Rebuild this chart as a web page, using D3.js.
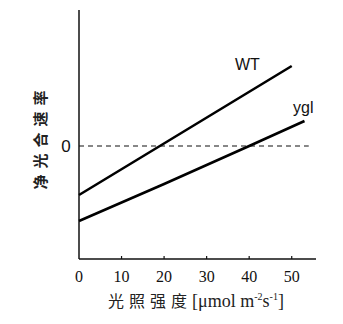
<!DOCTYPE html>
<html>
<head>
<meta charset="utf-8">
<script src="https://cdn.jsdelivr.net/npm/d3@7"></script>
<style>
  body { margin: 0; background: #fff; }
</style>
</head>
<body>
<div id="chart"></div>
<script>
var WIDTH = 343;
var HEIGHT = 324;

// light intensity (x) and net photosynthetic rate (arbitrary units)
var xTicks = [0, 10, 20, 30, 40, 50];
var wtX = [0, 19, 50];
var wtY = [-4.9, 0, 8.0];
var yglX = [0, 20, 40, 53];
var yglY = [-7.5, -3.8, 0, 2.5];

var SERIF = "'Liberation Serif', 'DejaVu Serif', 'Times New Roman', serif";
var SANS = "'Liberation Sans', Arial, sans-serif";

var svg = d3.select("#chart").append("svg")
    .attr("width", WIDTH)
    .attr("height", HEIGHT);

var x = d3.scaleLinear().domain([0, 55]).range([79, 313]);
var y = d3.scaleLinear().domain([-11.3, 13.6]).range([259, 10]);

// axes
svg.append("line")
    .attr("x1", x(0)).attr("x2", x(0))
    .attr("y1", y(13.6)).attr("y2", y(-11.3))
    .attr("stroke", "#111").attr("stroke-width", 1.5);
svg.append("line")
    .attr("x1", x(0)).attr("x2", 316)
    .attr("y1", y(-11.3)).attr("y2", y(-11.3))
    .attr("stroke", "#111").attr("stroke-width", 1.5);

svg.selectAll("line.tick")
    .data(xTicks.slice(1))
    .enter().append("line")
    .attr("class", "tick")
    .attr("x1", function(d) { return x(d); })
    .attr("x2", function(d) { return x(d); })
    .attr("y1", y(-11.3))
    .attr("y2", y(-11.3) - 3)
    .attr("stroke", "#111").attr("stroke-width", 1.2);

svg.selectAll("text.tick")
    .data(xTicks)
    .enter().append("text")
    .attr("class", "tick")
    .attr("x", function(d) { return x(d); })
    .attr("y", 282)
    .attr("text-anchor", "middle")
    .attr("font-family", SERIF)
    .attr("font-size", "16px")
    .attr("fill", "#111")
    .text(function(d) { return d; });

// zero line
svg.append("line")
    .attr("x1", x(0)).attr("x2", x(54))
    .attr("y1", y(0)).attr("y2", y(0))
    .attr("stroke", "#111").attr("stroke-width", 1.2)
    .attr("stroke-dasharray", "5,4");

svg.append("text")
    .attr("x", 66).attr("y", y(0) + 6)
    .attr("text-anchor", "middle")
    .attr("font-family", SANS)
    .attr("font-size", "17px")
    .attr("fill", "#111")
    .text("0");

// series
var line = d3.line()
    .x(function(d) { return x(d[0]); })
    .y(function(d) { return y(d[1]); });

svg.append("path")
    .datum(d3.zip(wtX, wtY))
    .attr("d", line)
    .attr("fill", "none").attr("stroke", "#000").attr("stroke-width", 2.6);

svg.append("path")
    .datum(d3.zip(yglX, yglY))
    .attr("d", line)
    .attr("fill", "none").attr("stroke", "#000").attr("stroke-width", 2.6);

svg.append("text")
    .attr("x", 235).attr("y", 70)
    .attr("font-family", SANS)
    .attr("font-size", "16px")
    .attr("fill", "#111")
    .text("WT");

svg.append("text")
    .attr("x", 293).attr("y", 113)
    .attr("font-family", SANS)
    .attr("font-size", "16px")
    .attr("fill", "#111")
    .text("ygl");

// axis titles
svg.append("text")
    .attr("transform", "translate(46,137) rotate(-90)")
    .attr("text-anchor", "middle")
    .attr("font-family", "'Noto Sans CJK SC', sans-serif")
    .attr("font-size", "15px")
    .attr("font-weight", "bold")
    .attr("letter-spacing", "6px")
    .attr("fill", "#222")
    .text("净光合速率");

var xt = svg.append("text")
    .attr("x", 196).attr("y", 307)
    .attr("text-anchor", "middle")
    .attr("font-family", "'Noto Sans CJK SC', sans-serif")
    .attr("font-size", "16px")
    .attr("fill", "#222");
xt.append("tspan").attr("letter-spacing", "5px").text("光照强度");
xt.append("tspan").attr("font-family", SERIF).attr("font-size", "18px").text("[μmol m");
xt.append("tspan").attr("dy", -7).attr("font-family", SERIF).attr("font-size", "10px").text("-2");
xt.append("tspan").attr("dy", 7).attr("font-family", SERIF).attr("font-size", "18px").text("s");
xt.append("tspan").attr("dy", -7).attr("font-family", SERIF).attr("font-size", "10px").text("-1");
xt.append("tspan").attr("dy", 7).attr("font-family", SERIF).attr("font-size", "18px").text("]");
</script>
</body>
</html>
